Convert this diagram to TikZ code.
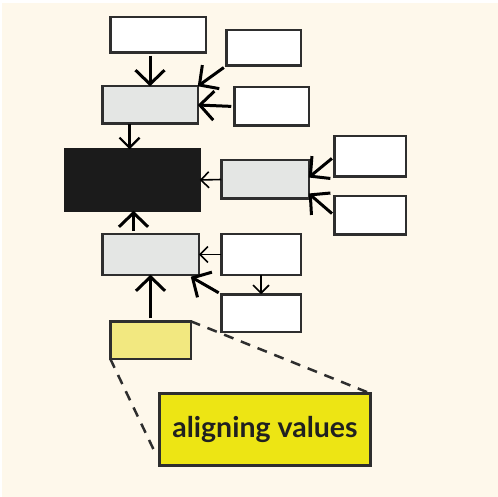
\documentclass[tikz,border=0pt]{standalone}
\usepackage{fontspec}
\setsansfont{Lato}
\usetikzlibrary{arrows.meta}

\definecolor{paper}{RGB}{254,248,235}
\definecolor{edge}{RGB}{46,46,46}
\definecolor{ink}{RGB}{32,32,32}
\definecolor{boxgrey}{RGB}{228,230,228}
\definecolor{boxblack}{RGB}{27,27,27}
\definecolor{paleyellow}{RGB}{242,232,128}
\definecolor{brightyellow}{RGB}{237,229,20}

\tikzset{
  box/.style={draw=edge, line width=2.5pt, fill=white, inner sep=0pt, outer sep=0pt},
  greybox/.style={box, fill=boxgrey},
  bigtip/.style={line width=3pt, shorten <=3pt, -{Straight Barb[length=14pt,width=29pt]}},
  midtip/.style={line width=2.2pt, -{Straight Barb[length=10pt,width=20pt]}},
  smalltip/.style={line width=1.6pt, -{Straight Barb[length=8pt,width=16pt]}},
  guide/.style={line width=2.5pt, edge, dash pattern=on 10pt off 8pt}
}

\begin{document}
\begin{tikzpicture}[x=1pt,y=-1pt]
\useasboundingbox (0,0) rectangle (498,497);
\fill[white] (0,0) rectangle (498,497);
\fill[paper] (2,3) rectangle (498,497);

% boxes, placed at their centres
\node[box, minimum width=95.5pt, minimum height=35.5pt] (topleft) at (158,35) {};
\node[box, minimum width=74.5pt, minimum height=35.5pt] (topright) at (263.5,48) {};
\node[greybox, minimum width=95.5pt, minimum height=37.5pt] (upper) at (150,105) {};
\node[box, minimum width=74.5pt, minimum height=38.5pt] (upperin) at (271.5,106.5) {};
\node[box, fill=boxblack, draw=boxblack, minimum width=134.5pt, minimum height=61.5pt] (core) at (132.5,180) {};
\node[greybox, minimum width=87.5pt, minimum height=38.5pt] (side) at (265,179.5) {};
\node[box, minimum width=71.5pt, minimum height=40.5pt] (sidein1) at (370,156.5) {};
\node[box, minimum width=71.5pt, minimum height=38.5pt] (sidein2) at (370,215.5) {};
\node[greybox, minimum width=96.5pt, minimum height=40.5pt] (lower) at (150.5,254.5) {};
\node[box, minimum width=79.5pt, minimum height=40.5pt] (lowerin1) at (261,254.5) {};
\node[box, minimum width=79.5pt, minimum height=37.5pt] (lowerin2) at (261,313) {};
\node[box, fill=paleyellow, minimum width=80.5pt, minimum height=37.5pt] (align) at (150.5,340) {};
\node[box, line width=3pt, fill=brightyellow, minimum width=211pt, minimum height=72pt,
      text=ink, font=\sffamily\bfseries\fontsize{28.5}{32}\selectfont] (zoom) at (265,429.5) {aligning values};

% arrows into the boxes
\draw[bigtip] (topleft.south -| upper.north) -- (upper.north);
\draw[bigtip] (topright.south west) -- (upper.north east);
\draw[bigtip] (upperin.west) -- (upper.east);
\draw[midtip] ([xshift=-3pt]upper.south -| core.north) -- ([xshift=-3pt]core.north);
\draw[smalltip] (side.west) -- (core.east);
\draw[bigtip] (sidein1.west) -- ([yshift=2pt]side.east);
\draw[bigtip] (sidein2.west) -- ([yshift=-14pt]side.east);
\draw[bigtip] ([xshift=-17pt]lower.north) -- ([xshift=-17pt]lower.north |- core.south);
\draw[smalltip] (lowerin1.west) -- (lower.east);
\draw[smalltip] (lowerin1.south) -- (lowerin2.north);
\draw[bigtip] (lowerin2.north west) -- ([xshift=-8pt,yshift=-2pt]lower.south east);
\draw[bigtip] (align.north) -- (lower.south);

% dashed lines out to the enlarged box
\draw[guide] (align.north east) -- (zoom.north east);
\draw[guide] (align.south west) -- ([xshift=-4pt,yshift=12pt]zoom.south west);
\end{tikzpicture}
\end{document}
